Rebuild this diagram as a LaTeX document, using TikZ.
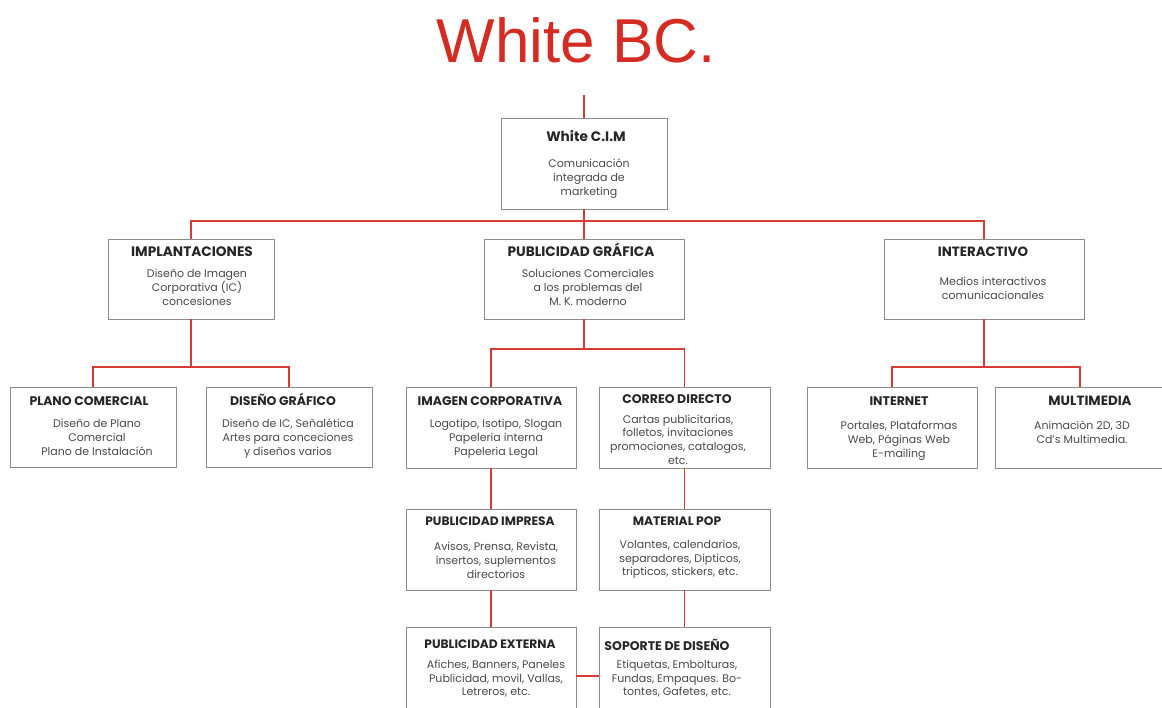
\documentclass[tikz,border=0pt]{standalone}
\usepackage{fontspec}
\setmainfont{Poppins}
\newfontfamily\titlefont{Liberation Sans}
\definecolor{wred}{HTML}{D42B23}
\definecolor{lred}{HTML}{D93A35}
\definecolor{bgray}{HTML}{8C8C8C}
\definecolor{tgray}{HTML}{4A4A4A}
\newcommand{\bx}[5]{\node[box,minimum width={(#4-#2)*1pt},minimum height={(#5-#3)*1pt}] (#1) at ({(#2+#4)/2},{(#3+#5)/2}) {};}
\begin{document}
\begin{tikzpicture}[x=1pt,y=-1pt,
 box/.style={draw=bgray,line width=0.9pt,inner sep=0pt,fill=white},
 link/.style={draw=lred,line width=1.4pt},
 head/.style={font=\bfseries\fontsize{13.7}{15}\selectfont, text=black!85, inner sep=0pt, anchor=base},
 subhead/.style={head, font=\bfseries\fontsize{12.5}{14}\selectfont},
 body/.style={font=\fontsize{11}{14}\selectfont, text=tgray, align=center, inner sep=0pt,
   execute at begin node=\strut, execute at end node=\strut},
]
\useasboundingbox (0,0) rectangle (1162,707);
\clip (0,0) rectangle (1162,707);
\fill[white] (0,0) rectangle (1162,707);

\node[font=\titlefont\fontsize{62}{68}\selectfont, text=wred, anchor=base, inner sep=0pt] (title) at (576,62) {White BC.};

% boxes
\bx{root}{501}{118}{667}{209}
\bx{impl}{108}{239}{274}{319}
\bx{pub}{484}{239}{684}{319}
\bx{inter}{884}{239}{1084}{319}
\bx{plano}{10}{387}{176}{467}
\bx{disg}{206}{387}{372}{467}
\bx{imgc}{406}{387}{576}{468}
\bx{correo}{599}{387}{770}{468}
\bx{internet}{807}{387}{977}{468}
\bx{multi}{995}{387}{1165}{468}
\bx{pimp}{406}{509}{576}{590}
\bx{pop}{599}{509}{770}{590}
\bx{pext}{406}{627}{576}{725}
\bx{sop}{599}{627}{770}{725}

% junctions
\coordinate (top) at (584,95);
\coordinate (j0) at (584,221);
\coordinate (j1) at (191,367);
\coordinate (j2) at (584,349);
\coordinate (j3) at (984,367);

% connectors
\draw[link] (top) -- (root.north);
\draw[link] (root.south) -- (j0);
\draw[link] (impl.north) |- (j0) -| (inter.north);
\draw[link] (j0) -- (pub.north);
\draw[link] (impl.south) -- (j1);
\draw[link] (plano.north) |- (j1) -| (disg.north);
\draw[link] (pub.south) -- (j2);
\draw[link] (imgc.north) |- (j2) -| (correo.north);
\draw[link] (inter.south) -- (j3);
\draw[link] (internet.north) |- (j3) -| (multi.north);
\draw[link] (imgc.south) -- (pimp.north);
\draw[link] (pimp.south) -- (pext.north);
\draw[link] (correo.south) -- (pop.north);
\draw[link] (pop.south) -- (sop.north);
\draw[link] (pext.east) -- (sop.west);

% texts
\node[head] (rootH) at (586,141.5) {White C.I.M};
\node[body] (rootB) at (589,179) {Comunicación\\integrada de\\marketing};
\node[head] (implH) at (192,256.5) {IMPLANTACIONES};
\node[body] (implB) at (197,289) {Diseño de Imagen\\Corporativa (IC)\\concesiones};
\node[head] (pubH) at (581,256.5) {PUBLICIDAD GRÁFICA};
\node[body] (pubB) at (588,289) {Soluciones Comerciales\\a los problemas del\\M. K. moderno};
\node[head, font=\bfseries\fontsize{13.4}{15}\selectfont] (interH) at (983,256.5) {INTERACTIVO};
\node[body] (interB) at (993,290.5) {Medios interactivos\\comunicacionales};
\node[subhead] (planoH) at (89,405.5) {PLANO COMERCIAL};
\node[body] (planoB) at (97,439) {Diseño de Plano\\Comercial\\Plano de Instalación};
\node[subhead] (disgH) at (283,405.5) {DISEÑO GRÁFICO};
\node[body] (disgB) at (288,439) {Diseño de IC, Señalética\\Artes para conceciones\\y diseños varios};
\node[subhead] (imgcH) at (490,405.5) {IMAGEN CORPORATIVA};
\node[body] (imgcB) at (496,439) {Logotipo, Isotipo, Slogan\\Papeleria interna\\Papeleria Legal};
\node[subhead] (correoH) at (677,403.5) {CORREO DIRECTO};
\node[body, font=\fontsize{11}{13.6}\selectfont] (correoB) at (678,441.5) {Cartas publicitarias,\\folletos, invitaciones\\promociones, catalogos,\\etc.};
\node[subhead] (internetH) at (899,405.5) {INTERNET};
\node[body] (internetB) at (899,441) {Portales, Plataformas\\Web, Páginas Web\\E-mailing};
\node[head, font=\bfseries\fontsize{13.4}{15}\selectfont] (multiH) at (1090,405.5) {MULTIMEDIA};
\node[body] (multiB) at (1082,434) {Animaciòn 2D, 3D\\Cd’s Multimedia.};
\node[subhead, font=\bfseries\fontsize{12.2}{14}\selectfont] (pimpH) at (490,525.5) {PUBLICIDAD IMPRESA};
\node[body] (pimpB) at (496,562) {Avisos, Prensa, Revista,\\insertos, suplementos\\directorios};
\node[subhead, font=\bfseries\fontsize{12.3}{14}\selectfont] (popH) at (677,525.5) {MATERIAL POP};
\node[body, font=\fontsize{11}{13.6}\selectfont] (popB) at (680,560) {Volantes, calendarios,\\separadores, Dipticos,\\tripticos, stickers, etc.};
\node[subhead, font=\bfseries\fontsize{12.2}{14}\selectfont] (pextH) at (490,648.5) {PUBLICIDAD EXTERNA};
\node[body, font=\fontsize{11}{13.3}\selectfont] (pextB) at (496,680) {Afiches, Banners, Paneles\\Publicidad, movil, Vallas,\\Letreros, etc.};
\node[subhead] (sopH) at (667,650.5) {SOPORTE DE DISEÑO};
\node[body, font=\fontsize{11}{13.3}\selectfont] (sopB) at (677,680) {Etiquetas, Embolturas,\\Fundas, Empaques. Bo-\\tontes, Gafetes, etc.};
\end{tikzpicture}
\end{document}
